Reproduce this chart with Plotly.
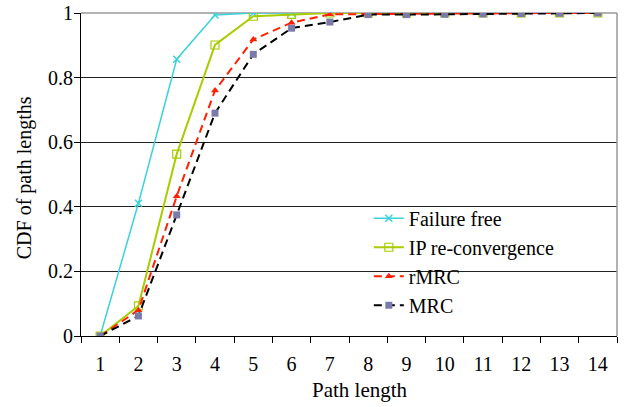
import plotly.graph_objects as go

path_length = list(range(1, 15))
tick_labels = [str(v) for v in path_length]
y_ticks = [0, 0.2, 0.4, 0.6, 0.8, 1]
y_tick_labels = ["0", "0.2", "0.4", "0.6", "0.8", "1"]

failure_free = [0, 0.411, 0.857, 0.994, 1.0, 1.0, 1.0, 1.0, 1.0, 1.0, 1.0, 1.0, 1.0, 1.0]
ip_reconv = [0, 0.093, 0.563, 0.901, 0.99, 0.996, 1.0, 1.0, 1.0, 1.0, 1.0, 1.0, 1.0, 1.0]
rmrc = [0, 0.08, 0.433, 0.76, 0.918, 0.97, 0.996, 0.997, 0.998, 0.998, 0.999, 0.999, 1.0, 1.0]
mrc = [0, 0.062, 0.375, 0.69, 0.872, 0.953, 0.972, 0.995, 0.995, 0.996, 0.997, 0.998, 0.999, 1.0]

FONT = "Liberation Serif"

fig = go.Figure()
series = [
    ("Failure free", failure_free, dict(color="#3CD2DC", width=1.5), dict(symbol="x-thin", size=7, color="#3CD2DC", line=dict(color="#3CD2DC", width=1.5))),
    ("IP re-convergence", ip_reconv, dict(color="#A8CC00", width=2), dict(symbol="square-open", size=8, color="#A8CC00", line=dict(color="#A8CC00", width=1.2))),
    ("rMRC", rmrc, dict(color="#FF2000", width=2, dash="8px,5px"), dict(symbol="triangle-up", size=7, color="#FF2000")),
    ("MRC", mrc, dict(color="#000000", width=2, dash="8px,5px"), dict(symbol="square", size=7, color="#7B7BAA")),
]
for i, (name, vals, line, marker) in enumerate(series):
    fig.add_trace(go.Scatter(x=path_length, y=vals, name=name, mode="lines+markers",
                             line=line, marker=marker, legendgroup=str(i)))

# white box behind legend (covers gridlines like the original)
fig.add_shape(type="rect", xref="x", yref="y", x0=6.21, x1=13.75, y0=0.07, y1=0.5,
              fillcolor="white", line=dict(width=0), layer="below")

fig.update_layout(
    width=630, height=407,
    margin=dict(l=81, r=13, t=13, b=71, autoexpand=False),
    paper_bgcolor="white", plot_bgcolor="white",
    font=dict(family=FONT, size=20, color="black"),
    showlegend=True,
    legend=dict(x=0.537, y=0.425, xanchor="left", yanchor="top", bgcolor="rgba(0,0,0,0)",
                borderwidth=0, font=dict(size=20, family=FONT), traceorder="grouped",
                tracegroupgap=0),
    xaxis=dict(range=[0.5, 14.5], tickvals=path_length, ticktext=tick_labels, ticks="",
               showline=True, linecolor="black", linewidth=1, showgrid=False, zeroline=False,
               ticklabelstandoff=10, automargin=False, tickfont=dict(size=20, family=FONT),
               minor=dict(tick0=0.5, dtick=1, ticks="outside", ticklen=6, tickcolor="black", tickwidth=1, showgrid=False),
               mirror=False),
    yaxis=dict(range=[0, 1], tickvals=y_ticks, ticktext=y_tick_labels, ticks="outside", ticklen=6,
               tickcolor="black", showline=True, linecolor="black", linewidth=1,
               showgrid=True, gridcolor="#222222", gridwidth=1, zeroline=False,
               ticklabelstandoff=-3, automargin=False, tickfont=dict(size=20, family=FONT)),
    annotations=[
        dict(text="Path length", xref="paper", yref="paper", x=0.52, y=-0.167,
             xanchor="center", yanchor="middle", showarrow=False, font=dict(size=21, family=FONT)),
        dict(text="CDF of path lengths", xref="paper", yref="paper", x=-0.106, y=0.489,
             xanchor="center", yanchor="middle", textangle=-90, showarrow=False, font=dict(size=20, family=FONT)),
    ],
)
# gray right border and top
fig.add_shape(type="line", xref="paper", yref="paper", x0=1, x1=1, y0=0, y1=1, line=dict(color="#999999", width=1.5))
fig.add_shape(type="line", xref="paper", yref="paper", x0=0, x1=1, y0=1, y1=1, line=dict(color="#999999", width=1.5), layer="below")

fig.write_html("out.html", post_script="document.body.style.margin='0';",
               config={"displayModeBar": False})
